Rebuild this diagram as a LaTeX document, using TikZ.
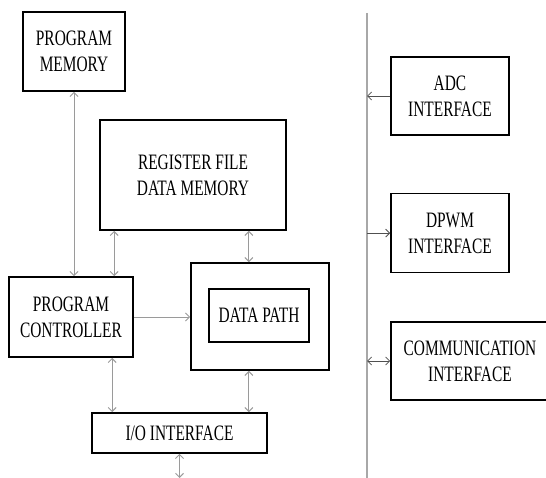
\documentclass[tikz,border=0pt]{standalone}
\usepackage{fontspec}
\setmainfont{Liberation Serif}[FakeStretch=0.7]
\usetikzlibrary{positioning}
\usetikzlibrary{arrows.meta,calc}
\usepackage{xcolor}
\definecolor{linkgray}{HTML}{9A9A9A}
\definecolor{busgray}{HTML}{A8A8A8}
\definecolor{portgray}{HTML}{505050}
\tikzset{
  block/.style  = {draw, line width=1.6pt, rectangle, align=center, inner sep=0pt,
                   font=\fontsize{22}{26}\selectfont},
  link/.style   = {draw=linkgray, line width=1pt, <->},
  port/.style   = {draw=portgray, line width=0.8pt},
  >={Straight Barb[length=4pt,width=8pt]}
}

\begin{document}
\begin{tikzpicture}[x=1pt,y=-1pt]
\useasboundingbox (0,0) rectangle (546,478);
\clip (0,0) rectangle (546,478);
\node[block, minimum width=102pt, minimum height=79pt] (pm) at (74,51.5) {PROGRAM\\MEMORY};
\node[block, minimum width=186pt, minimum height=110pt] (rf) at (193,175) {REGISTER FILE\\DATA MEMORY};
\node[block, minimum width=124pt, minimum height=80pt] (pc) at (71,317) {PROGRAM\\CONTROLLER};
\node[block, minimum width=138pt, minimum height=107pt] (dp) at (260,316.5) {};
\node[block, minimum width=100pt, minimum height=53pt] (dpin) at (259,315.5) {DATA PATH};
\node[block, minimum width=175pt, minimum height=40pt] (io) at (179.5,433) {I/O INTERFACE};
\node[block, minimum width=118pt, minimum height=78pt] (adc) at (450,96) {ADC\\INTERFACE};
\node[block, minimum width=118pt, minimum height=79pt, below=57pt of adc] (dpwm) {DPWM\\INTERFACE};
\node[block, minimum width=158pt, minimum height=78pt] (comm) at (470,361) {COMMUNICATION\\INTERFACE};
%\node[block] (bus) {BUS};

% bus line
\coordinate (bustop) at (367,13);
\coordinate (busbot) at (367,478);
\draw[busgray, line width=1.2pt] (bustop) -- (busbot);

\path [link] (pm.south) -- (pm.south |- pc.north);
\path [link] ([xshift=15pt]rf.south west) -- ([xshift=15pt]rf.south west |- pc.north);
\path [link] ([xshift=-38pt]rf.south east) -- ([xshift=-38pt]rf.south east |- dp.north);
\path [link] ([xshift=21pt]io.north west |- pc.south) -- ([xshift=21pt]io.north west);
\path [link] ([xshift=-38pt]rf.south east |- dp.south) -- ([xshift=-38pt]rf.south east |- io.north);
\coordinate (ioout) at (179.5,478);
\path [link] (io.south) -- (ioout);
\path [draw=linkgray, line width=1pt, ->] (pc.east) -- (pc.east -| dp.west);

\path [port, ->] (adc.west) -- (adc.west -| bustop);
\path [port, ->] (dpwm.west -| bustop) -- (dpwm.west);
\path [port, <->] (comm.west -| bustop) -- (comm.west);

\end{tikzpicture}
\end{document}
